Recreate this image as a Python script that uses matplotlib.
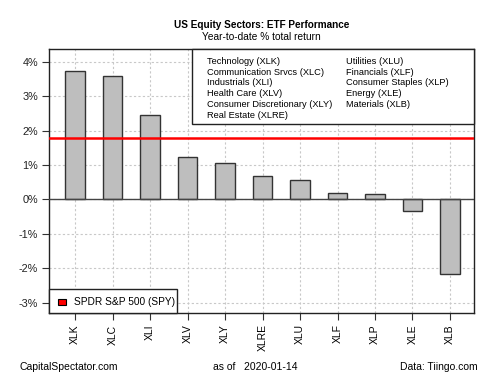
import matplotlib.pyplot as plt
import matplotlib.patches as mpatches
import numpy as np

plt.rcParams['font.family'] = ['Liberation Sans', 'DejaVu Sans']

# Year-to-date total return (%) by sector ETF
tickers = ['XLK', 'XLC', 'XLI', 'XLV', 'XLY', 'XLRE', 'XLU', 'XLF', 'XLP', 'XLE', 'XLB']
returns = [3.73, 3.59, 2.44, 1.22, 1.05, 0.68, 0.56, 0.19, 0.17, -0.35, -2.16]
spy_return = 1.77

legend_left = ['Technology (XLK)', 'Communication Srvcs (XLC)', 'Industrials (XLI)',
               'Health Care (XLV)', 'Consumer Discretionary (XLY)', 'Real Estate (XLRE)']
legend_right = ['Utilities (XLU)', 'Financials (XLF)', 'Consumer Staples (XLP)',
                'Energy (XLE)', 'Materials (XLB)']
y_ticks = [-3, -2, -1, 0, 1, 2, 3, 4]

W, H = 500, 375


def fx(px):
    return px / W


def fy(py):
    return 1 - py / H


fig = plt.figure(figsize=(5, 3.75), dpi=100)
ax = fig.add_axes([fx(49.3), fy(313.3), 425 / W, 264 / H])

x = np.arange(len(tickers))
ax.set_xlim(-0.69, len(tickers) - 1 + 0.65)
ax.set_ylim(-3.31, 4.36)

# grid
for yt in y_ticks:
    ax.axhline(yt, color='#c8c8c8', lw=0.8, ls=(0, (2, 2)), zorder=0)
for xi in x:
    ax.axvline(xi, color='#c8c8c8', lw=0.8, ls=(0, (2, 2)), zorder=0)

ax.bar(x, returns, width=0.52, color='#bebebe', edgecolor='#333333', lw=1.0, zorder=2)
ax.axhline(0, color='#444444', lw=1.0, zorder=3)
ax.axhline(spy_return, color='red', lw=1.8, zorder=4)

ax.set_xticks(x)
ax.set_xticklabels(tickers, rotation=90, fontsize=7.5)
ax.set_yticks(y_ticks)
ax.set_yticklabels([f'{v}%' for v in y_ticks], fontsize=7.8, color='#222222')
ax.tick_params(direction='out', length=5, width=0.8, color='#333333', pad=3)
for s in ax.spines.values():
    s.set_color('#222222')
    s.set_linewidth(1.0)

# sector legend box (top right)
fig.patches.append(mpatches.Rectangle((fx(191.7), fy(124)), (474.3 - 191.7) / W, (124 - 49.3) / H,
                                      transform=fig.transFigure, facecolor='white',
                                      edgecolor='#222222', lw=1.0, zorder=5))
for i, t in enumerate(legend_left):
    fig.text(fx(207), fy(61.5 + i * 10.7), t, fontsize=6.7, va='center', ha='left', zorder=6)
for i, t in enumerate(legend_right):
    fig.text(fx(346.5), fy(61.5 + i * 10.7), t, fontsize=6.7, va='center', ha='left', zorder=6)

# SPY legend box (bottom left)
fig.patches.append(mpatches.Rectangle((fx(49.3), fy(313.3)), (177 - 49.3) / W, (313.3 - 289.3) / H,
                                      transform=fig.transFigure, facecolor='white',
                                      edgecolor='#222222', lw=1.0, zorder=5))
fig.patches.append(mpatches.Rectangle((fx(57.5), fy(305)), 8.5 / W, 6.3 / H,
                                      transform=fig.transFigure, facecolor='red',
                                      edgecolor='black', lw=0.8, zorder=6))
fig.text(fx(74), fy(302), 'SPDR S&P 500 (SPY)', fontsize=7.3, va='center', ha='left', zorder=6)

fig.text(fx(261.5), fy(25), 'US Equity Sectors: ETF Performance', fontsize=7.2,
         fontweight='bold', ha='center', va='center')
fig.text(fx(261.5), fy(37), 'Year-to-date % total return', fontsize=7.3,
         ha='center', va='center')

fig.text(fx(20), fy(367), 'CapitalSpectator.com', fontsize=7.5, va='center', ha='left')
fig.text(fx(255), fy(367), 'as of   2020-01-14', fontsize=7.5, va='center', ha='center')
fig.text(fx(478), fy(367), 'Data: Tiingo.com', fontsize=7.5, va='center', ha='right')

fig.savefig('out.png', dpi=100)
